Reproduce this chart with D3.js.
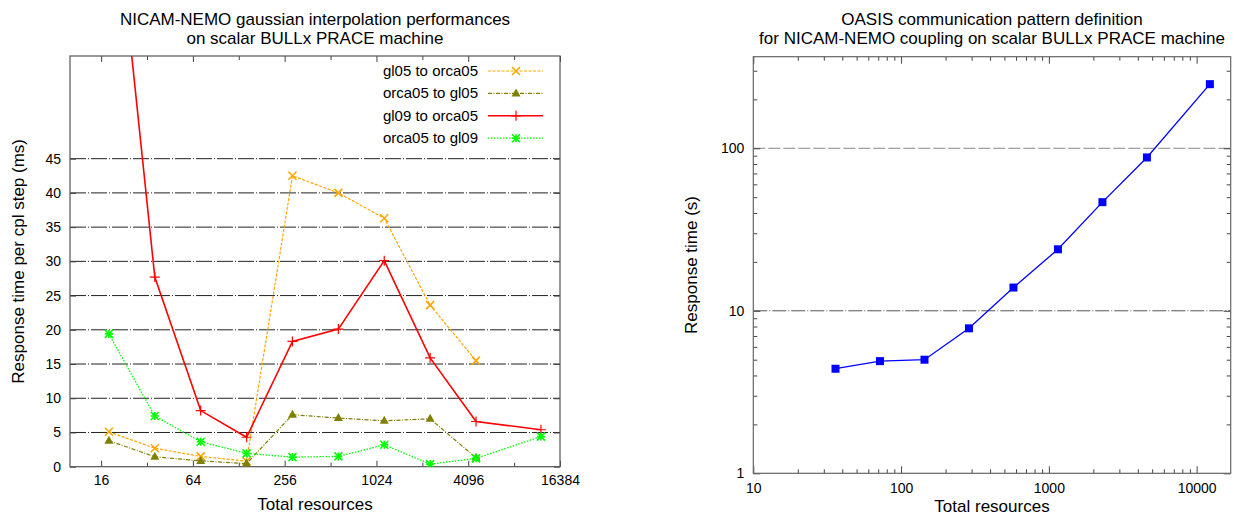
<!DOCTYPE html>
<html><head><meta charset="utf-8">
<script src="https://cdn.jsdelivr.net/npm/d3@7"></script>
<style>
body{margin:0;background:#fff;}
text{font-family:"Liberation Sans",Arial,Helvetica,sans-serif;fill:#000;}
</style></head>
<body>
<svg id="c" width="1241" height="517"></svg>
<script>
// ---------- DATA ----------
const leftX = [18, 36, 72, 144, 288, 576, 1152, 2304, 4608, 12288];
const gl05ToOrca05 = [5.1, 2.7, 1.5, 0.8, 42.5, 40.0, 36.3, 23.6, 15.5];
const orca05ToGl05 = [3.8, 1.45, 0.85, 0.45, 7.6, 7.1, 6.7, 7.0, 1.3];
const gl09ToOrca05 = [92, 27.7, 8.2, 4.3, 18.3, 20.1, 30.1, 15.9, 6.6, 5.4];
const orca05ToGl09 = [19.4, 7.4, 3.65, 1.95, 1.4, 1.5, 3.2, 0.38, 1.22, 4.4];
const leftSeriesNames = ["gl05 to orca05", "orca05 to gl05", "gl09 to orca05", "orca05 to gl09"];
const leftXTickLabels = [16, 64, 256, 1024, 4096, 16384];
const leftXTicksAll = [16, 32, 64, 128, 256, 512, 1024, 2048, 4096, 8192, 16384];
const leftYTicks = [0, 5, 10, 15, 20, 25, 30, 35, 40, 45];

const rightX = [36, 72, 144, 288, 576, 1152, 2304, 4608, 12288];
const commTime = [4.4, 4.9, 5.0, 7.8, 13.9, 23.9, 46.6, 87.8, 248];
const rightXTickLabels = [10, 100, 1000, 10000];
const rightYTickLabels = [1, 10, 100];

const leftTitle = ["NICAM-NEMO gaussian interpolation performances", "on scalar BULLx PRACE machine"];
const rightTitle = ["OASIS communication pattern definition", "for NICAM-NEMO coupling on scalar BULLx PRACE machine"];

// ---------- SETUP ----------
const svg = d3.select("#c");
svg.append("rect").attr("width",1241).attr("height",517).attr("fill","#fff");

function styleAxis(g){
  g.select(".domain").remove();
  g.selectAll(".tick line").attr("stroke","#444").attr("stroke-width",1);
  g.selectAll(".tick text").attr("font-size",14).attr("fill","#000")
   .style("font-family",'"Liberation Sans",Arial,sans-serif');
}

// ---------- LEFT CHART ----------
const L = {x0:70, x1:560, y0:56, y1:466.7};
const xL = d3.scaleLog().base(2).domain([10,16384]).range([L.x0,L.x1]);
const yL = d3.scaleLinear().domain([0,60]).range([L.y1,L.y0]);

svg.append("defs").append("clipPath").attr("id","clipL")
  .append("rect").attr("x",L.x0).attr("y",L.y0).attr("width",L.x1-L.x0).attr("height",L.y1-L.y0);

// grid
const gl = svg.append("g");
leftYTicks.filter(v=>v>0).forEach(v=>{
  gl.append("line").attr("x1",L.x0).attr("x2",L.x1).attr("y1",yL(v)).attr("y2",yL(v))
    .attr("stroke","#222").attr("stroke-width",1).attr("stroke-dasharray","16,2,1,2");
});

// axes
const minorL = leftXTicksAll.filter(v=>!leftXTickLabels.includes(v));
svg.append("g").attr("transform",`translate(0,${L.y1})`)
  .call(d3.axisBottom(xL).tickValues(leftXTickLabels).tickFormat(d3.format("d")).tickSize(-6).tickPadding(8)).call(styleAxis);
svg.append("g").attr("transform",`translate(0,${L.y1})`)
  .call(d3.axisBottom(xL).tickValues(minorL).tickFormat("").tickSize(-4)).call(styleAxis);
svg.append("g").attr("transform",`translate(0,${L.y0})`)
  .call(d3.axisTop(xL).tickValues(leftXTickLabels).tickFormat("").tickSize(-6)).call(styleAxis);
svg.append("g").attr("transform",`translate(0,${L.y0})`)
  .call(d3.axisTop(xL).tickValues(minorL).tickFormat("").tickSize(-4)).call(styleAxis);
svg.append("g").attr("transform",`translate(${L.x0},0)`)
  .call(d3.axisLeft(yL).tickValues(leftYTicks).tickSize(-6).tickPadding(9)).call(styleAxis);
svg.append("g").attr("transform",`translate(${L.x1},0)`)
  .call(d3.axisRight(yL).tickValues(leftYTicks).tickFormat("").tickSize(-6)).call(styleAxis);

svg.append("rect").attr("x",L.x0).attr("y",L.y0).attr("width",L.x1-L.x0).attr("height",L.y1-L.y0)
  .attr("fill","none").attr("stroke","#555").attr("stroke-width",1.2);

// series
const leftSeries = [
  {name:leftSeriesNames[0], vals:gl05ToOrca05, color:"#ffa500", dash:"3,1.5", w:1.2, marker:"x"},
  {name:leftSeriesNames[1], vals:orca05ToGl05, color:"#808000", dash:"4,1.5,1,1.5", w:1.2, marker:"tri"},
  {name:leftSeriesNames[2], vals:gl09ToOrca05, color:"#ff0000", dash:null, w:1.6, marker:"plus"},
  {name:leftSeriesNames[3], vals:orca05ToGl09, color:"#00ff00", dash:"1.5,1.5", w:1.3, marker:"star"}
];

function drawMarker(g, type, x, y, color){
  const s = 4;
  if(type==="x" || type==="star"){
    g.append("path").attr("d",`M${x-s},${y-s}L${x+s},${y+s}M${x-s},${y+s}L${x+s},${y-s}`)
      .attr("stroke",color).attr("stroke-width",1.6).attr("fill","none");
  }
  if(type==="plus" || type==="star"){
    const p = type==="star"? s : s+1;
    g.append("path").attr("d",`M${x-p},${y}L${x+p},${y}M${x},${y-p}L${x},${y+p}`)
      .attr("stroke",color).attr("stroke-width",type==="star"?1.6:1.2).attr("fill","none");
  }
  if(type==="tri"){
    g.append("path").attr("d",`M${x},${y-5}L${x+4.5},${y+3}L${x-4.5},${y+3}Z`).attr("fill",color);
  }
  if(type==="sq"){
    g.append("rect").attr("x",x-4).attr("y",y-4).attr("width",8).attr("height",8).attr("fill",color);
  }
}

const plotL = svg.append("g").attr("clip-path","url(#clipL)");
leftSeries.forEach(s=>{
  const pts = s.vals.map((v,i)=>[xL(leftX[i]), yL(v)]);
  plotL.append("path").attr("d",d3.line()(pts)).attr("fill","none")
    .attr("stroke",s.color).attr("stroke-width",s.w)
    .attr("stroke-dasharray",s.dash);
  pts.forEach(p=>drawMarker(plotL, s.marker, p[0], p[1], s.color));
});

// legend
const leg = svg.append("g");
leftSeries.forEach((s,i)=>{
  const cy = 71 + i*22.4;
  leg.append("text").attr("x",478).attr("y",cy+5).attr("text-anchor","end").attr("font-size",15).text(s.name);
  leg.append("line").attr("x1",488).attr("x2",543).attr("y1",cy).attr("y2",cy)
    .attr("stroke",s.color).attr("stroke-width",s.w).attr("stroke-dasharray",s.dash);
  drawMarker(leg, s.marker, 516, cy, s.color);
});

// titles & labels
leftTitle.forEach((t,i)=>svg.append("text").attr("x",(L.x0+L.x1)/2).attr("y",25+i*19)
  .attr("text-anchor","middle").attr("font-size",17).text(t));
svg.append("text").attr("x",(L.x0+L.x1)/2).attr("y",510).attr("text-anchor","middle").attr("font-size",17).text("Total resources");
svg.append("text").attr("transform",`translate(24,${(L.y0+L.y1)/2}) rotate(-90)`).attr("text-anchor","middle")
  .attr("font-size",17).text("Response time per cpl step (ms)");

// ---------- RIGHT CHART ----------
const R = {x0:753.3, x1:1230.7, y0:56.7, y1:473.3};
const xR = d3.scaleLog().domain([10,17000]).range([R.x0,R.x1]);
const yR = d3.scaleLog().domain([1,366]).range([R.y1,R.y0]);

// grid
[10,100].forEach((v,i)=>{
  svg.append("line").attr("x1",R.x0).attr("x2",R.x1).attr("y1",yR(v)).attr("y2",yR(v))
    .attr("stroke",i===0?"#555":"#888").attr("stroke-width",1).attr("stroke-dasharray",i===0?"14,2,1,2":"12,3");
});

const xMinorR = [];
[10,100,1000,10000].forEach(d=>{for(let k=2;k<=9;k++){const v=d*k; if(v<=17000) xMinorR.push(v);}});
const yMinorR = [];
[1,10,100].forEach(d=>{for(let k=2;k<=9;k++){const v=d*k; if(v<=366) yMinorR.push(v);}});

svg.append("g").attr("transform",`translate(0,${R.y1})`)
  .call(d3.axisBottom(xR).tickValues(rightXTickLabels).tickFormat(d3.format("d")).tickSize(-7).tickPadding(10)).call(styleAxis);
svg.append("g").attr("transform",`translate(0,${R.y1})`)
  .call(d3.axisBottom(xR).tickValues(xMinorR).tickFormat("").tickSize(-4)).call(styleAxis);
svg.append("g").attr("transform",`translate(0,${R.y0})`)
  .call(d3.axisTop(xR).tickValues(rightXTickLabels).tickFormat("").tickSize(-7)).call(styleAxis);
svg.append("g").attr("transform",`translate(0,${R.y0})`)
  .call(d3.axisTop(xR).tickValues(xMinorR).tickFormat("").tickSize(-4)).call(styleAxis);
svg.append("g").attr("transform",`translate(${R.x0},0)`)
  .call(d3.axisLeft(yR).tickValues(rightYTickLabels).tickFormat(d3.format("d")).tickSize(-7).tickPadding(9)).call(styleAxis);
svg.append("g").attr("transform",`translate(${R.x0},0)`)
  .call(d3.axisLeft(yR).tickValues(yMinorR).tickFormat("").tickSize(-4)).call(styleAxis);
svg.append("g").attr("transform",`translate(${R.x1},0)`)
  .call(d3.axisRight(yR).tickValues(rightYTickLabels).tickFormat("").tickSize(-7)).call(styleAxis);
svg.append("g").attr("transform",`translate(${R.x1},0)`)
  .call(d3.axisRight(yR).tickValues(yMinorR).tickFormat("").tickSize(-4)).call(styleAxis);

svg.append("rect").attr("x",R.x0).attr("y",R.y0).attr("width",R.x1-R.x0).attr("height",R.y1-R.y0)
  .attr("fill","none").attr("stroke","#666").attr("stroke-width",1.2);

const ptsR = commTime.map((v,i)=>[xR(rightX[i]), yR(v)]);
svg.append("path").attr("d",d3.line()(ptsR)).attr("fill","none").attr("stroke","#0000ff").attr("stroke-width",1.3);
ptsR.forEach(p=>drawMarker(svg,"sq",p[0],p[1],"#0000ff"));

rightTitle.forEach((t,i)=>svg.append("text").attr("x",(R.x0+R.x1)/2).attr("y",25+i*19)
  .attr("text-anchor","middle").attr("font-size",17).text(t));
svg.append("text").attr("x",(R.x0+R.x1)/2).attr("y",512).attr("text-anchor","middle").attr("font-size",17).text("Total resources");
svg.append("text").attr("transform",`translate(697,${(R.y0+R.y1)/2}) rotate(-90)`).attr("text-anchor","middle")
  .attr("font-size",17).text("Response time (s)");
</script>
</body></html>
